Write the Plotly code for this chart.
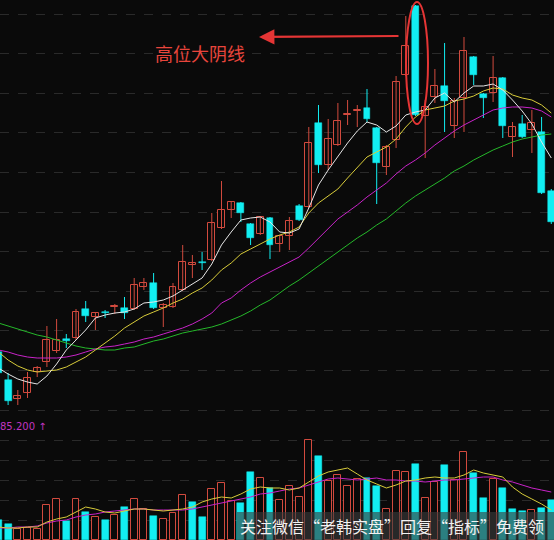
import plotly.graph_objects as go

# ---------------- data ----------------
direction = ["d","d","u","u","u","u","u","d","u","d","u","d","u","d","u","u","d","u","u","u",
             "u","d","u","u","u","d","d","u","d","u","u","d","u","d","u","u","u","u","d","d",
             "u","u","u","d","u","u","d","u","u","d","d","u","d","u","d","u","d","d"]
open_ = [13.40,12.00,11.05,11.35,12.40,12.90,13.45,14.05,14.10,15.55,15.15,15.38,15.63,15.60,15.55,16.65,16.85,15.60,15.65,16.50,
         17.75,17.88,18.00,19.60,20.50,20.85,19.80,19.30,20.10,18.80,19.20,20.70,20.65,24.85,22.75,23.75,25.23,25.43,25.60,24.60,
         22.65,24.00,27.25,30.70,25.20,26.15,26.70,24.70,26.10,28.15,26.30,26.35,27.10,24.15,24.80,24.50,24.40,21.45]
high = [13.60,12.35,11.50,12.40,12.70,14.70,15.05,14.30,15.55,15.95,15.40,15.50,15.80,16.15,17.10,17.10,17.35,15.85,16.85,18.75,
        18.25,18.40,20.35,21.95,20.95,20.90,19.85,20.20,20.15,19.25,20.15,20.80,24.65,25.75,25.05,25.85,26.00,25.75,26.55,24.65,
        23.75,27.20,30.20,30.75,26.00,27.55,28.85,26.10,29.15,28.20,26.35,28.20,27.15,24.90,25.25,25.50,25.15,21.55]
low = [12.20,10.75,10.75,11.10,12.15,12.65,13.35,13.60,14.00,14.90,14.50,15.10,15.30,15.05,15.50,16.50,15.55,14.65,15.60,16.45,
       17.10,17.50,17.95,19.55,20.10,19.90,18.75,19.25,18.05,18.40,18.50,19.95,20.60,22.35,22.50,23.70,24.75,24.65,24.90,20.80,
       22.25,23.60,27.20,25.20,23.10,25.85,24.40,24.10,24.40,26.75,25.10,25.90,24.10,23.15,24.10,23.35,21.30,19.80]
close = [12.35,10.95,11.20,12.10,12.60,14.00,14.00,13.95,15.40,15.20,15.35,15.33,15.70,15.35,16.75,16.85,15.60,15.75,16.65,17.90,
         17.85,17.83,19.85,20.50,20.90,20.35,19.10,20.15,18.75,19.20,19.95,20.00,23.85,22.75,24.05,24.95,25.30,25.50,25.05,22.85,
         23.65,26.90,28.70,25.25,25.65,26.70,25.95,25.95,28.45,27.25,26.10,27.10,24.70,24.65,24.15,24.85,21.35,19.90]

ma5 = [12.60,12.30,12.05,11.90,11.80,12.20,12.80,13.50,14.00,14.50,15.10,15.25,15.35,15.40,15.55,15.85,15.90,16.00,16.20,16.50,
       16.80,17.10,17.80,18.75,19.40,20.00,20.10,20.15,19.90,19.40,19.35,19.55,20.60,21.75,22.50,23.20,23.85,24.45,24.90,24.75,
       24.40,24.70,25.25,25.40,25.50,26.10,26.35,25.90,26.35,26.70,26.70,26.80,26.50,26.00,25.45,24.80,23.90,23.10]
ma10 = [13.40,13.00,12.70,12.50,12.40,12.45,12.50,12.65,12.90,13.15,13.50,13.85,14.20,14.60,14.90,15.20,15.40,15.60,15.85,16.05,
        16.35,16.60,17.00,17.50,17.85,18.30,18.55,18.80,19.05,19.25,19.40,19.65,20.35,20.85,21.20,21.55,22.10,22.65,23.15,23.40,
        23.65,24.05,24.65,25.15,25.50,25.60,25.70,25.95,26.05,26.20,26.45,26.60,26.55,26.25,26.10,26.00,25.75,25.35]
ma20 = [13.50,13.40,13.25,13.15,13.10,13.10,13.10,13.15,13.25,13.40,13.55,13.65,13.70,13.80,13.90,14.05,14.15,14.30,14.45,14.60,
        14.80,15.05,15.35,15.85,16.10,16.50,16.85,17.15,17.40,17.65,17.90,18.15,18.60,19.10,19.55,20.05,20.40,20.75,21.15,21.50,
        21.85,22.30,22.70,23.00,23.35,23.75,24.10,24.45,24.75,25.00,25.25,25.50,25.60,25.65,25.65,25.60,25.45,25.15]
ma60 = [14.85,14.70,14.55,14.40,14.25,14.15,14.00,13.85,13.70,13.60,13.55,13.50,13.50,13.60,13.65,13.80,13.95,14.05,14.20,14.35,
        14.45,14.55,14.65,14.80,15.00,15.20,15.45,15.75,16.00,16.35,16.70,17.00,17.35,17.70,18.05,18.40,18.75,19.10,19.40,19.75,
        20.05,20.45,20.85,21.20,21.50,21.80,22.10,22.45,22.70,23.00,23.25,23.50,23.70,23.90,24.05,24.15,24.25,24.30]

volume = [20,16,11,12,11,35,41,19,41,28,23,20,25,33,41,31,24,21,27,45,
          38,23,51,57,39,37,68,62,52,40,54,43,100,84,59,65,54,61,62,54,
          31,69,68,76,42,58,75,60,88,67,42,61,52,31,29,30,32,40]
vol_dir = ["d","d","u","u","u","u","u","d","u","d","u","d","u","d","u","u","d","u","u","u",
           "d","d","u","u","u","d","d","u","d","u","u","u","u","d","u","u","u","u","d","d",
           "u","u","u","d","u","u","d","u","u","d","d","u","d","d","d","u","d","d"]
vol_ma5 = [13,12,12,13,13,18,21,23,28,33,31,28,27,29,31,31,30,29,30,31,
           33,38,41,43,42,46,51,53,52,52,50,52,58,64,68,70,72,66,60,56,
           52,55,59,60,62,63,62,62,65,70,67,65,63,53,46,41,36,30]
vol_ma10 = [12,12,13,13,14,17,19,20,23,25,26,28,29,30,31,31,30,30,30,30,
            31,33,35,37,39,41,43,46,47,49,51,52,55,58,61,62,61,60,61,62,
            60,60,59,59,58,59,60,60,61,62,63,63,60,58,55,52,50,48]

vol_label = "85.200 ↑"
note_text = "高位大阴线"
watermark = "关注微信“老韩实盘”回复“指标”免费领"

# ---------------- styling ----------------
BG = "#0a0a0a"
RED = "#d24a3e"
CYAN = "#12eef2"
GRID = "#2a2a2a"

idx = list(range(len(open_)))
fig = go.Figure()

# wicks
for d, col in (("u", RED), ("d", CYAN)):
    wx, wy = [], []
    for i in idx:
        if direction[i] == d:
            wx += [i, i, None]
            wy += [low[i], high[i], None]
    fig.add_trace(go.Scatter(x=wx, y=wy, mode="lines", line=dict(color=col, width=1),
                             hoverinfo="skip", showlegend=False, xaxis="x", yaxis="y"))

# bodies
for d in ("u", "d"):
    xs = [i for i in idx if direction[i] == d]
    base = [min(open_[i], close[i]) for i in xs]
    h = [max(abs(close[i] - open_[i]), 0.05) for i in xs]
    if d == "u":
        mk = dict(color=BG, line=dict(color=RED, width=1))
    else:
        mk = dict(color=CYAN, line=dict(color=CYAN, width=0.5))
    fig.add_trace(go.Bar(x=xs, y=h, base=base, width=0.72, marker=mk,
                         showlegend=False, xaxis="x", yaxis="y"))

# moving averages
for arr, col in ((ma60, "#25b82a"), (ma20, "#c823c8"), (ma10, "#d8cc3a"), (ma5, "#e6e6e6")):
    fig.add_trace(go.Scatter(x=idx, y=arr, mode="lines", line=dict(color=col, width=1),
                             showlegend=False, xaxis="x", yaxis="y"))

# volume bars
for d in ("u", "d"):
    xs = [i for i in idx if vol_dir[i] == d]
    vs = [volume[i] for i in xs]
    if d == "u":
        mk = dict(color=BG, line=dict(color=RED, width=1))
    else:
        mk = dict(color=CYAN, line=dict(color=CYAN, width=0.5))
    fig.add_trace(go.Bar(x=xs, y=vs, width=0.72, marker=mk, showlegend=False,
                         xaxis="x2", yaxis="y2"))

for arr, col in ((vol_ma10, "#c823c8"), (vol_ma5, "#d8cc3a")):
    fig.add_trace(go.Scatter(x=idx, y=arr, mode="lines", line=dict(color=col, width=1),
                             showlegend=False, xaxis="x2", yaxis="y2"))

W, H = 554, 540
xr = [0.165, 57.28]
fig.update_layout(
    width=W, height=H, margin=dict(l=0, r=0, t=0, b=0),
    paper_bgcolor=BG, plot_bgcolor=BG, barmode="overlay", bargap=0,
    xaxis=dict(range=xr, visible=False, domain=[0, 1], anchor="y"),
    xaxis2=dict(range=xr, visible=False, domain=[0, 1], anchor="y2", matches="x"),
    yaxis=dict(domain=[113 / 540, 1], range=[9.65, 31], showticklabels=False, ticks="",
               showgrid=True, gridcolor=GRID, griddash="dash", gridwidth=1,
               tick0=30.3, dtick=1.98, zeroline=False, showline=False),
    yaxis2=dict(domain=[0, 110 / 540], range=[0, 110], showticklabels=False, ticks="",
                showgrid=True, gridcolor=GRID, griddash="dash", gridwidth=1,
                tick0=0, dtick=20, zeroline=False, showline=False),
    font=dict(family="Noto Sans CJK SC, sans-serif"),
)

# red ellipse around the big bearish candle
fig.add_shape(type="circle", xref="paper", yref="paper",
              x0=406 / W, x1=428 / W, y0=1 - 124 / H, y1=1 - 2 / H,
              line=dict(color="#e53535", width=2), layer="above")

# note and arrow
fig.add_annotation(xref="paper", yref="paper", x=200 / W, y=1 - 38 / H,
                   text=note_text, showarrow=False,
                   font=dict(size=18, color="#e8453c", family="Noto Sans CJK SC"))
fig.add_annotation(xref="paper", yref="paper", x=259 / W, y=1 - 37 / H,
                   ax=400 - 259, ay=-1, text="", showarrow=True, arrowhead=2,
                   arrowsize=1.4, arrowwidth=2.2, arrowcolor="#e53535", standoff=0)

# volume label
fig.add_annotation(xref="paper", yref="paper", x=-0.004, y=1 - 434 / H,
                   text=vol_label, showarrow=False, xanchor="left",
                   font=dict(size=10, color="#c035c0", family="DejaVu Sans"))

# watermark band
fig.add_shape(type="rect", xref="paper", yref="paper", x0=237 / W, x1=1.0,
              y0=0, y1=28 / H, fillcolor="rgba(60,60,60,0.62)", line=dict(width=0),
              layer="above")
fig.add_annotation(xref="paper", yref="paper", x=238 / W, y=1 - 526 / H,
                   text=watermark, showarrow=False, xanchor="left", yanchor="middle",
                   font=dict(size=16, color="#f2f2f2", family="Noto Sans CJK SC"))

fig.write_html("out.html", config={"displayModeBar": False},
               post_script="document.body.style.margin='0';document.body.style.overflow='hidden';document.body.style.background='#0a0a0a';")
